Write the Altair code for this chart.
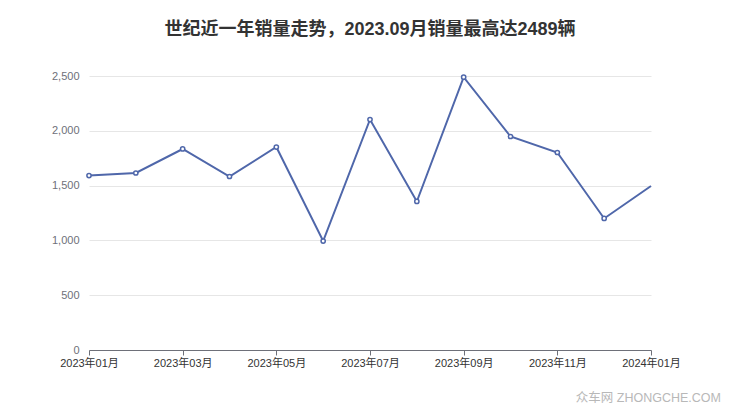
import altair as alt
import pandas as pd

months = ["2023年01月", "2023年02月", "2023年03月", "2023年04月", "2023年05月", "2023年06月",
          "2023年07月", "2023年08月", "2023年09月", "2023年10月", "2023年11月", "2023年12月",
          "2024年01月"]
sales = [1592, 1615, 1834, 1583, 1852, 994, 2103, 1355, 2489, 1948, 1802, 1200, 1496]
tick_labels = ["2023年01月", "2023年03月", "2023年05月", "2023年07月", "2023年09月",
               "2023年11月", "2024年01月"]

df = pd.DataFrame({"month": months, "sales": sales})
df_pts = df.iloc[:-1]

FONT = "Liberation Sans, Noto Sans CJK SC"
COLOR = "#4f67aa"

x_enc = alt.X("month:O", sort=months,
              scale=alt.Scale(type="point", padding=0),
              axis=alt.Axis(values=tick_labels, labelAngle=0, title=None,
                            domainColor="#6e7079", tickColor="#6e7079", tickSize=5,
                            labelColor="#333333", labelFontSize=11, labelFont=FONT,
                            labelPadding=2, grid=False))
y_enc = alt.Y("sales:Q", scale=alt.Scale(domain=[0, 2500], nice=False),
              axis=alt.Axis(values=[0, 500, 1000, 1500, 2000, 2500], format=",.0f",
                            title=None, domain=False, ticks=False,
                            labelColor="#6e7079", labelFontSize=11, labelFont=FONT,
                            labelPadding=10, gridColor="#e6e6e6", gridWidth=1))

line = alt.Chart(df).mark_line(color=COLOR, strokeWidth=2).encode(x=x_enc, y=y_enc)
pts = alt.Chart(df_pts).mark_point(shape="circle", size=18, filled=True, fill="white",
                                   stroke=COLOR, strokeWidth=1.5, opacity=1).encode(
    x=alt.X("month:O", sort=months), y="sales:Q")

wm = alt.Chart(pd.DataFrame({"t": ["众车网 ZHONGCHE.COM"]})).mark_text(
    align="right", baseline="middle", fontSize=12.5, color="#b8b8b8", font=FONT
).encode(x=alt.value(632), y=alt.value(322), text="t:N")

chart = alt.layer(line, pts, wm).properties(
    width=562, height=274,
    title=alt.TitleParams("世纪近一年销量走势，2023.09月销量最高达2489辆", fontSize=18,
                          font=FONT, fontWeight="bold", color="#333333", offset=31,
                          anchor="middle"),
    autosize=alt.AutoSizeParams(type="none"),
    padding={"left": 81, "top": 68, "right": 81, "bottom": 67},
).configure_view(stroke=None)

chart.save("out.html", embed_options={"renderer": "svg", "actions": False})
